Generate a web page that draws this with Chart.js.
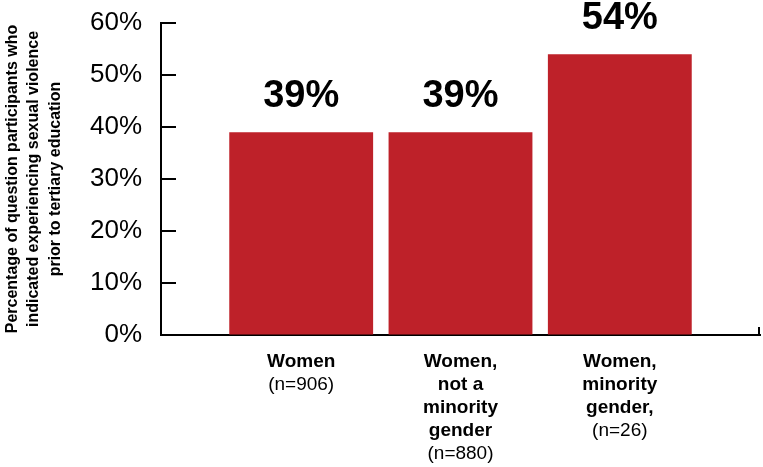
<!DOCTYPE html>
<html lang="en">
<head>
    <meta charset="UTF-8">
    <title>Sexual violence prior to tertiary education</title>
    <script src="https://cdn.jsdelivr.net/npm/chart.js"></script>
    <style>
        body { margin: 0; background: #ffffff; }
        .wrap { width: 763px; height: 467px; position: relative; }
    </style>
</head>
<body>
    <div class="wrap"><canvas id="myChart"></canvas></div>

    <script>
        // data
        const categories = [
            ['Women'],
            ['Women,', 'not a', 'minority', 'gender'],
            ['Women,', 'minority', 'gender,']
        ];
        const sampleSizes = ['(n=906)', '(n=880)', '(n=26)'];
        const values = [39, 39, 54];
        const yTitle = [
            'Percentage of question participants who',
            'indicated experiencing sexual violence',
            'prior to tertiary education'
        ];

        const FONT = 'Arial, "Liberation Sans", sans-serif';
        const RED = '#be2129';

        // value labels, category labels and inner tick marks
        const decorations = {
            id: 'decorations',
            afterDatasetsDraw(chart) {
                const c = chart.ctx;
                const area = chart.chartArea;
                const xs = chart.scales.x;
                const ys = chart.scales.y;
                c.save();
                c.fillStyle = '#000';
                c.textAlign = 'center';
                c.textBaseline = 'alphabetic';

                values.forEach((v, i) => {
                    const x = xs.getPixelForValue(i + 1);
                    c.font = 'bold 38px ' + FONT;
                    c.fillText(v + '%', x, ys.getPixelForValue(v) - 25);

                    let y = area.bottom + 32;
                    c.font = 'bold 19px ' + FONT;
                    categories[i].forEach(line => {
                        c.fillText(line, x, y);
                        y += 23;
                    });
                    c.font = '19px ' + FONT;
                    c.fillText(sampleSizes[i], x, y);
                });

                // y ticks point inwards
                c.strokeStyle = '#000';
                c.lineWidth = 2;
                ys.ticks.forEach(t => {
                    const y = ys.getPixelForValue(t.value);
                    c.beginPath();
                    c.moveTo(area.left, y);
                    c.lineTo(area.left + 15, y);
                    c.stroke();
                });
                // small end tick on the baseline
                c.beginPath();
                c.moveTo(area.right - 1, area.bottom);
                c.lineTo(area.right - 1, area.bottom - 8);
                c.stroke();
                c.restore();
            }
        };

        const ctx = document.getElementById('myChart').getContext('2d');

        new Chart(ctx, {
            type: 'bar',
            data: {
                datasets: [{
                    data: values.map((v, i) => ({ x: i + 1, y: v })),
                    backgroundColor: RED,
                    borderWidth: 0,
                    barPercentage: 0.903,
                    categoryPercentage: 1
                }]
            },
            options: {
                responsive: true,
                maintainAspectRatio: false,
                animation: false,
                layout: { padding: { top: 23, right: 3, bottom: 132, left: 0 } },
                plugins: {
                    legend: { display: false },
                    tooltip: { enabled: false }
                },
                scales: {
                    x: {
                        type: 'linear',
                        offset: false,
                        min: 0.12,
                        max: 3.88,
                        ticks: { display: false, stepSize: 1, includeBounds: false },
                        grid: { display: false, drawTicks: false },
                        border: { display: true, color: '#000', width: 2 },
                        afterFit: s => { s.height = 0; }
                    },
                    y: {
                        min: 0,
                        max: 60,
                        ticks: {
                            stepSize: 10,
                            padding: 0,
                            color: '#000',
                            font: { family: FONT, size: 26 },
                            callback: v => v + '%'
                        },
                        grid: {
                            drawOnChartArea: false,
                            drawTicks: true,
                            tickLength: 19,
                            tickColor: 'rgba(0,0,0,0)'
                        },
                        border: { display: true, color: '#000', width: 2 },
                        title: {
                            display: true,
                            text: yTitle,
                            color: '#000',
                            font: { family: FONT, size: 16, weight: 'bold', lineHeight: 1.33 },
                            padding: { top: 2, bottom: 0 }
                        },
                        afterFit: s => { s.width = 161; }
                    }
                }
            },
            plugins: [decorations]
        });
    </script>
</body>
</html>
